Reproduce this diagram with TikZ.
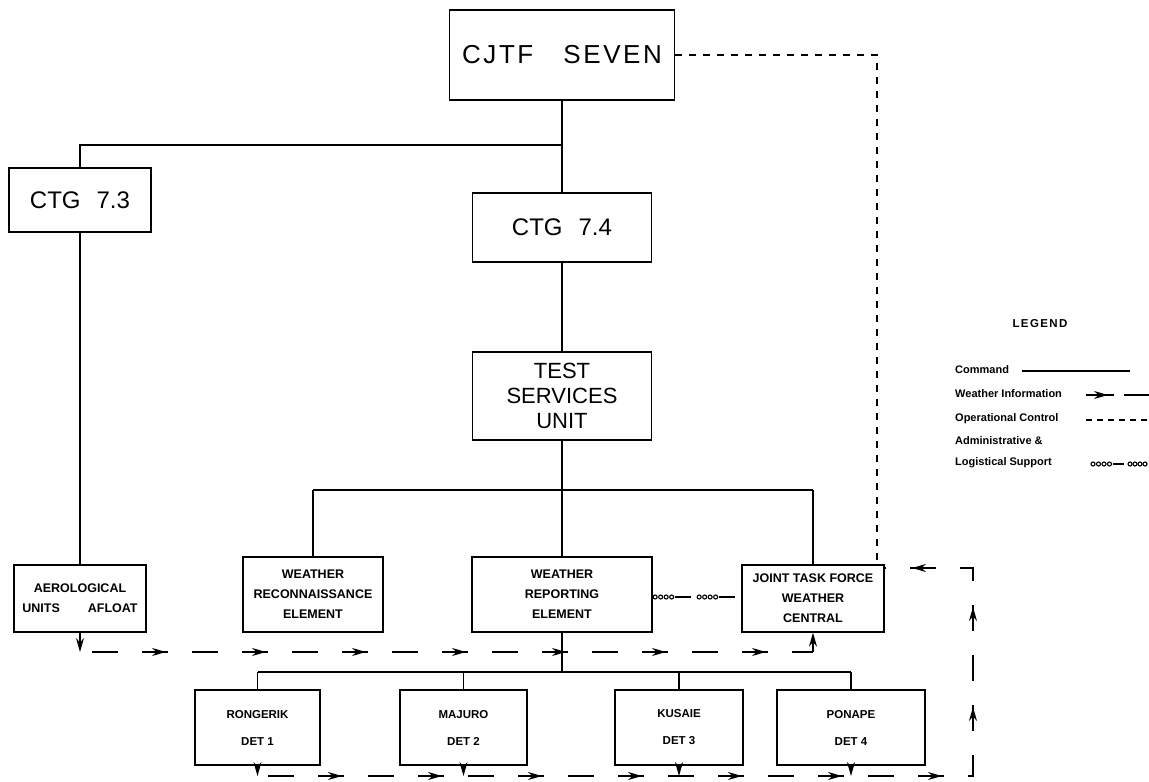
\documentclass[tikz,border=0pt]{standalone}
\usepackage{fontspec}
\setmainfont{Liberation Sans}
\usetikzlibrary{arrows.meta,decorations.markings}
\newcommand{\fbig}{\fontsize{26pt}{30pt}\selectfont\addfontfeature{LetterSpace=10}}
\newcommand{\fctg}{\fontsize{24pt}{28pt}\selectfont}
\newcommand{\ftsu}{\fontsize{22pt}{25pt}\selectfont}
\newcommand{\fmid}{\fontsize{12.5pt}{20pt}\selectfont\bfseries}
\newcommand{\fdet}{\fontsize{11.5pt}{27pt}\selectfont\bfseries}
\newcommand{\fleg}{\fontsize{11pt}{12pt}\selectfont\bfseries}
\begin{document}
\begin{tikzpicture}[x=1pt,y=-1pt,
  box/.style={draw,line width=1.3pt,inner sep=0pt,align=center},
  cmd/.style={line width=1.3pt},
  tip/.tip={Stealth[length=14pt,width=8pt]},
  cmdarrow/.style={line width=1.3pt,-tip},
  opc/.style={line width=1.3pt,dash pattern=on 7pt off 7pt},
  winfo/.style={line width=1.3pt,dash pattern=on 26pt off 24pt,
    postaction={decorate,decoration={markings,
      mark=between positions 74pt and -1pt step 100pt with {\arrow{tip}}}}},
  bead/.style={line width=1.1pt},
  admin/.style={decorate,decoration={markings,
      mark=between positions 2.5pt and 20pt step 5.5pt with {\draw[bead] (0,0) circle (2pt);},
      mark=at position 22pt with {\draw[line width=2.6pt] (0,0) -- (16pt,0);},
      mark=between positions 46.5pt and 64pt step 5.5pt with {\draw[bead] (0,0) circle (2pt);},
      mark=at position 66pt with {\draw[line width=2.6pt] (0,0) -- (16pt,0);}}}
]
\useasboundingbox (0,0) rectangle (1149,782);

% boxes
\node[box,font=\fbig,minimum width=225pt,minimum height=90pt] (cjtf) at (562,55)
  {CJTF\hspace{30pt}SEVEN};
\node[box,font=\fctg,minimum width=142pt,minimum height=64pt] (ctg73) at (80,200)
  {CTG\hspace{16pt}7.3};
\node[box,font=\fctg,minimum width=179pt,minimum height=69pt] (ctg74) at (562,227.5)
  {CTG\hspace{16pt}7.4};
\node[box,font=\ftsu,minimum width=179pt,minimum height=88pt] (tsu) at (562,396)
  {TEST\\SERVICES\\UNIT};
\node[box,font=\fmid,minimum width=132pt,minimum height=67pt] (aero) at (80,598.5)
  {AEROLOGICAL\\UNITS\hspace{28pt}AFLOAT};
\node[box,font=\fmid,minimum width=140pt,minimum height=75pt] (recon) at (313,594.5)
  {WEATHER\\RECONNAISSANCE\\ELEMENT};
\node[box,font=\fmid,minimum width=180pt,minimum height=75pt] (wre) at (562,594.5)
  {WEATHER\\REPORTING\\ELEMENT};
\node[box,font=\fmid,minimum width=142pt,minimum height=67pt] (jtf) at (813,598.5)
  {JOINT TASK FORCE\\WEATHER\\CENTRAL};
\node[box,font=\fdet,minimum width=125pt,minimum height=75pt] (rong) at (257.5,727.5)
  {RONGERIK\\DET 1};
\node[box,font=\fdet,minimum width=127pt,minimum height=75pt] (maj) at (463.5,727.5)
  {MAJURO\\DET 2};
\node[box,font=\fdet,minimum width=128pt,minimum height=75pt] (kus) at (679,727.5)
  {KUSAIE\\DET 3};
\node[box,font=\fdet,minimum width=148pt,minimum height=75pt] (pon) at (851,727.5)
  {PONAPE\\DET 4};

% junction coordinates
\coordinate (j1) at (562,145);
\coordinate (j1l) at (80,145);
\coordinate (j2) at (562,490);
\coordinate (j2l) at (313,490);
\coordinate (j2r) at (813,490);
\coordinate (j3) at (562,672);
\coordinate (oc) at (877,55);
\coordinate (w0) at (80,652);
\coordinate (w1) at (92,652);
\coordinate (w2) at (813,652);
\coordinate (b1) at (268,776);
\coordinate (b2) at (973,776);
\coordinate (b3) at (973,568);
\coordinate (b4) at (884,568);

% command lines
\draw[cmd] (cjtf.south) -- (ctg74.north);
\draw[cmd] (j1) -- (j1l) -- (ctg73.north);
\draw[cmd] (ctg73.south) -- (aero.north);
\draw[cmd] (ctg74.south) -- (tsu.north);
\draw[cmd] (tsu.south) -- (j2);
\draw[cmd] (j2l) -- (j2r);
\draw[cmd] (j2l) -- (recon.north);
\draw[cmd] (j2) -- (wre.north);
\draw[cmd] (j2r) -- (jtf.north);
\draw[cmd] (wre.south) -- (j3);
\draw[cmd] (rong.north |- j3) -- (pon.north |- j3);
\draw[cmd] (rong.north |- j3) -- (rong.north);
\draw[cmd] (maj.north |- j3) -- (maj.north);
\draw[cmd] (kus.north |- j3) -- (kus.north);
\draw[cmd] (pon.north |- j3) -- (pon.north);

% operational control
\draw[opc] (cjtf.east) -- (oc) -- (oc |- jtf.north);

% administrative & logistical support
\path[admin] (wre.east |- 0,597) -- (jtf.west |- 0,597);

% weather information
\draw[cmdarrow] (aero.south) -- (w0);
\draw[winfo] (w1) -- (w2);
\draw[cmdarrow] (w2) -- (jtf.south);
\draw[cmdarrow] (rong.south) -- (rong.south |- b1);
\draw[cmdarrow] (maj.south) -- (maj.south |- b1);
\draw[cmdarrow] (kus.south) -- (kus.south |- b1);
\draw[cmdarrow] (pon.south) -- (pon.south |- b1);
\draw[winfo] (b1) -- (b2) -- (b3) -- (b4);

% legend
\node (leg) at (1040,324) {\fontsize{11.5pt}{12pt}\selectfont\bfseries\addfontfeature{LetterSpace=12}LEGEND};
\node[anchor=west,inner sep=0pt] (lc) at (955,370) {\fleg Command};
\node[anchor=west,inner sep=0pt] (lw) at (955,394) {\fleg Weather Information};
\node[anchor=west,inner sep=0pt] (lo) at (955,419) {\fleg Operational Control};
\node[anchor=west,inner sep=0pt] (la) at (955,441) {\fleg Administrative \&};
\node[anchor=west,inner sep=0pt] (ll) at (955,463) {\fleg Logistical Support};
\draw[cmd] (1022,371) -- (1130,371);
\draw[line width=1.3pt] (1086,395) -- (1114,395);
\draw[line width=1.3pt,-tip] (1086,395) -- (1108,395);
\draw[line width=1.3pt] (1124,395) -- (1149,395);
\draw[opc,dash pattern=on 6pt off 5pt] (1086,420) -- (1149,420);
\foreach \i in {0,...,3} \draw[bead] (1093+\i*5.5,464) circle (2pt);
\draw[line width=2.6pt] (1113,464) -- (1124,464);
\foreach \i in {0,...,3} \draw[bead] (1130+\i*5,464) circle (2pt);
\end{tikzpicture}
\end{document}
